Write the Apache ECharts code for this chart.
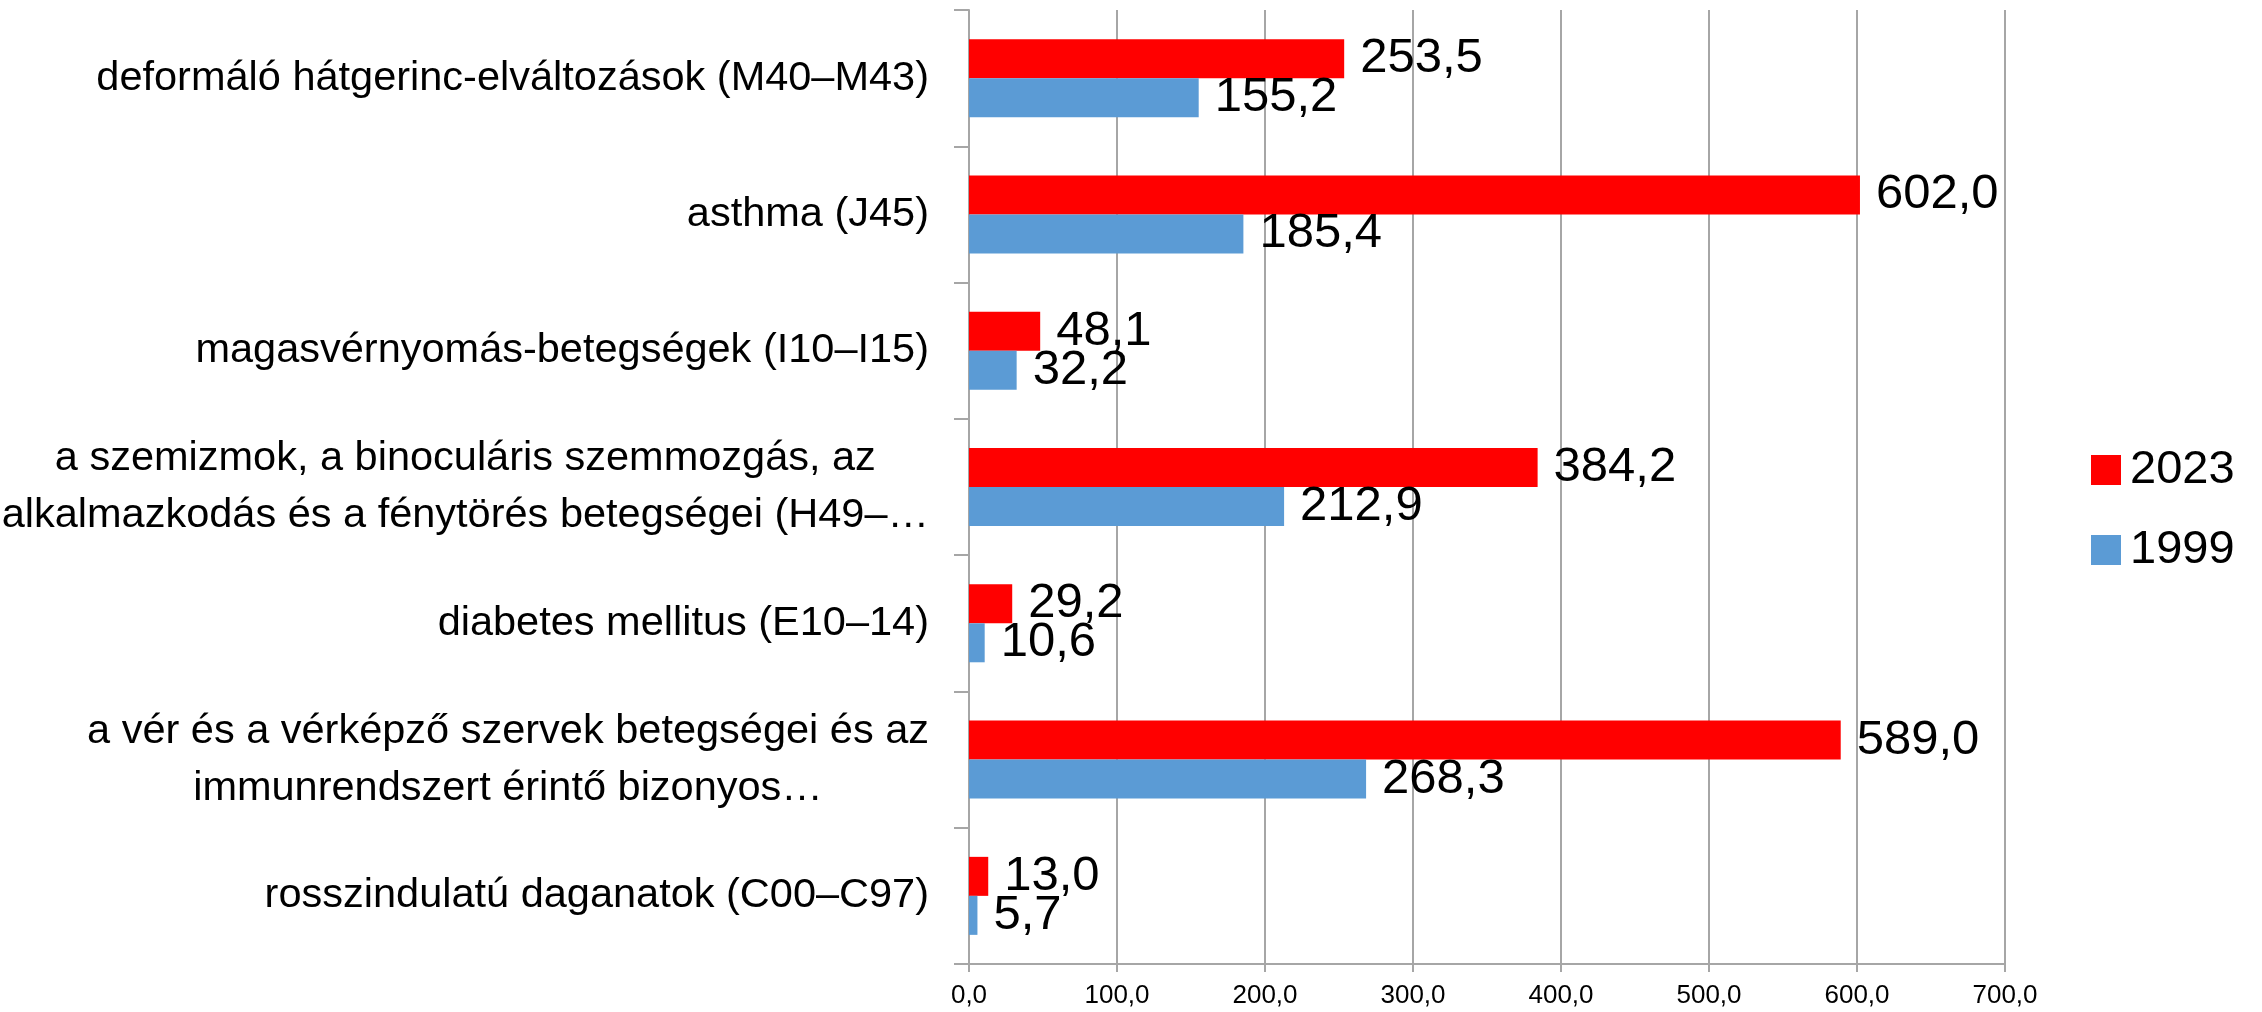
<!DOCTYPE html>
<html>
<head>
<meta charset="utf-8">
<script src="https://cdn.jsdelivr.net/npm/echarts@6/dist/echarts.min.js"></script>
<style>
html,body{margin:0;padding:0;background:#fff;}
#chart{width:2262px;height:1012px;}
</style>
</head>
<body>
<div id="chart"></div>
<script>
// Categories, top to bottom
const categories = [
  'deformáló hátgerinc-elváltozások (M40–M43)',
  'asthma (J45)',
  'magasvérnyomás-betegségek (I10–I15)',
  'a szemizmok, a binoculáris szemmozgás, az\nalkalmazkodás és a fénytörés betegségei (H49–…',
  'diabetes mellitus (E10–14)',
  'a vér és a vérképző szervek betegségei és az\nimmunrendszert érintő bizonyos…',
  'rosszindulatú daganatok (C00–C97)'
];
const seriesNames = ['2023', '1999'];
const values2023 = [253.5, 602.0, 48.1, 384.2, 29.2, 589.0, 13.0];
const values1999 = [155.2, 185.4, 32.2, 212.9, 10.6, 268.3, 5.7];
const xTicks = [0, 100, 200, 300, 400, 500, 600, 700];

const FONT = '"Liberation Sans", Arial, sans-serif';
const fmt = v => Number(v).toFixed(1).replace('.', ',');

const chart = echarts.init(document.getElementById('chart'), null, {renderer: 'canvas'});
const labelStyle = {
  show: true,
  position: 'right',
  distance: 16,
  color: '#000',
  fontFamily: FONT,
  fontSize: 49,
  formatter: p => fmt(p.value)
};
chart.setOption({
  animation: false,
  backgroundColor: '#fff',
  grid: {left: 969, right: 257, top: 10, bottom: 48, containLabel: false, outerBoundsMode: 'none'},
  legend: {
    orient: 'vertical',
    left: 2086,
    top: 440,
    itemWidth: 30,
    itemHeight: 30,
    itemGap: 30,
    icon: 'rect',
    data: seriesNames,
    textStyle: {fontFamily: FONT, fontSize: 47, color: '#000', lineHeight: 50, padding: [0, 0, 0, 4]}
  },
  xAxis: {
    type: 'value',
    min: xTicks[0],
    max: xTicks[xTicks.length - 1],
    interval: xTicks[1] - xTicks[0],
    axisLine: {show: true, lineStyle: {color: '#a6a6a6', width: 2}},
    axisTick: {show: true, inside: false, length: 8, lineStyle: {color: '#a6a6a6', width: 2}},
    splitLine: {show: true, lineStyle: {color: '#a6a6a6', width: 2}},
    axisLabel: {color: '#000', fontFamily: FONT, fontSize: 26, margin: 19, formatter: v => fmt(v)}
  },
  yAxis: {
    type: 'category',
    inverse: true,
    data: categories,
    axisLine: {show: true, lineStyle: {color: '#a6a6a6', width: 2}},
    axisTick: {show: true, inside: false, length: 15, lineStyle: {color: '#a6a6a6', width: 2}},
    splitLine: {show: false},
    axisLabel: {
      margin: 40,
      align: 'right',
      formatter: v => v.split('\n').map(l => '{c|' + l + '}').join('\n'),
      rich: {
        c: {align: 'center', fontFamily: FONT, fontSize: 41.5, color: '#000', lineHeight: 57}
      }
    }
  },
  series: [
    {
      name: seriesNames[0], type: 'bar', data: values2023,
      barWidth: 39, barGap: '0%',
      itemStyle: {color: '#ff0000'},
      label: labelStyle
    },
    {
      name: seriesNames[1], type: 'bar', data: values1999,
      barWidth: 39, barGap: '0%',
      itemStyle: {color: '#5b9bd5'},
      label: labelStyle
    }
  ]
});
</script>
</body>
</html>
